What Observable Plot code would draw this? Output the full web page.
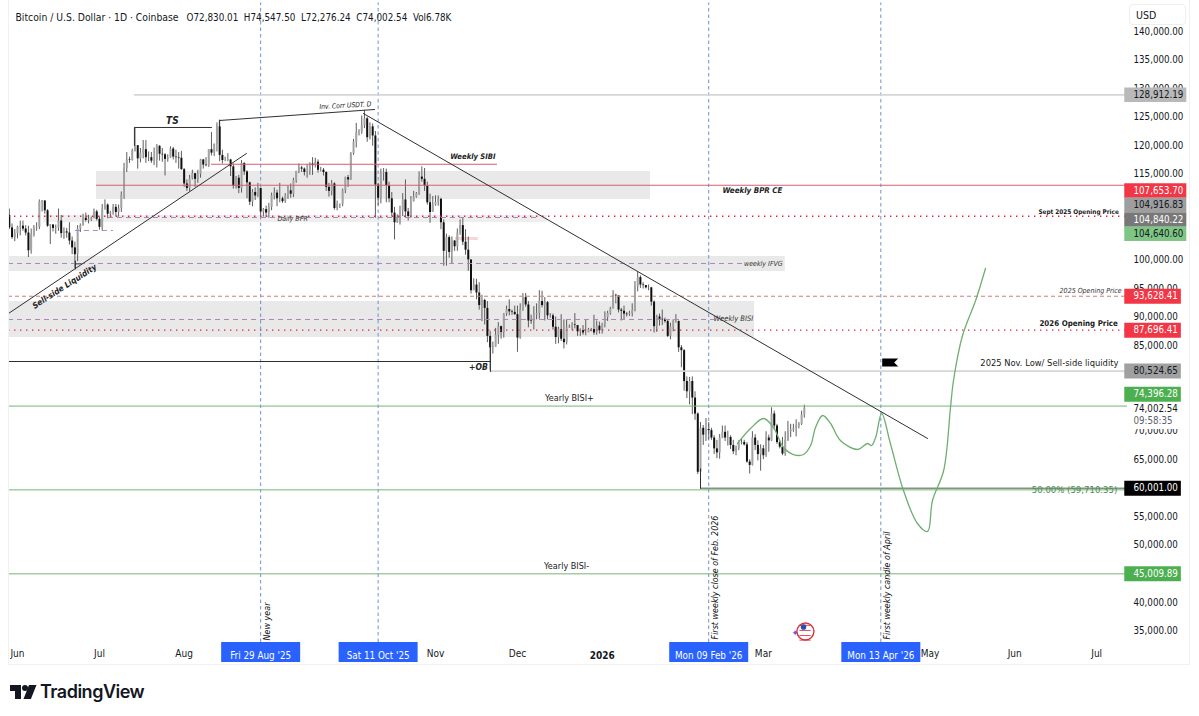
<!DOCTYPE html>
<html><head><meta charset="utf-8">
<script src="https://cdn.jsdelivr.net/npm/d3@7"></script>
<script src="https://cdn.jsdelivr.net/npm/@observablehq/plot@0.6"></script>
<style>
html,body{margin:0;padding:0;background:#fff;width:1199px;height:716px;overflow:hidden}
#wrap{position:relative;width:1199px;height:716px;font-family:"DejaVu Sans Condensed","DejaVu Sans",sans-serif}
#frame{position:absolute;left:8px;top:0;width:1182px;height:665px;border:1px solid #f1f1f1;border-top:none;box-sizing:border-box}
#usd{position:absolute;left:1129px;top:4px;width:57px;height:21px;background:#fff;border:1px solid #eeeeee;border-radius:4px;box-sizing:border-box;font-size:10.5px;line-height:20px;padding-left:6px;color:#131722;box-shadow:0 2px 0 #fff}
#logo{position:absolute;left:10px;top:681px;display:flex;align-items:center;gap:3px;color:#131722;font:600 18px "Inter",sans-serif;letter-spacing:-.5px}
svg{display:block}
</style></head><body>
<div id="wrap"><div id="frame"></div><div id="chart"></div><div id="usd">USD</div>
<div id="logo"><svg width="27" height="14" viewBox="0 0 27 14"><path d="M0 0h11v14H5V6H0z" fill="#131722"/><path d="M19 0h7.5l-5.6 14H13.5z" fill="#131722"/><circle cx="15" cy="3" r="3" fill="#131722"/></svg><span>TradingView</span></div></div>
<script>
// Daily candles, thousands of USD, from 29 May 2025 (day -3) on.
const firstDay = -3;
const firstOpen = 107.8;
const closes = [
105.6,103.9,104.6,
105.7,105.9,105.4,104.7,101.6,104.3,105.6,105.7,110.2,110.3,108.6,105.9,106.1,105.5,105.6,106.8,104.6,104.9,104.7,103.3,102.1,100.9,105.4,106.0,107.3,106.9,107.1,107.3,108.4,107.1,
105.7,108.9,109.6,108.0,108.2,109.2,108.3,109.0,111.3,116.0,117.5,117.4,119.1,120.0,117.7,118.7,119.3,117.9,117.9,117.3,117.4,119.9,118.5,118.4,117.6,117.9,119.4,118.0,117.9,117.8,115.8,
113.3,112.5,114.2,115.1,114.1,115.0,117.5,116.6,116.5,119.3,118.7,120.2,123.3,118.3,117.4,117.4,117.5,116.3,112.9,114.3,112.5,116.9,115.4,113.5,110.1,111.8,111.2,112.5,108.4,108.8,108.2,
109.2,111.2,111.7,110.7,110.7,110.2,111.2,112.1,111.5,113.9,115.5,116.1,115.9,115.3,115.4,116.8,116.5,117.1,115.7,115.7,115.3,112.7,112.0,113.3,109.0,109.7,109.7,112.1,114.4,114.0,
118.6,120.6,122.3,122.4,123.5,124.7,121.4,123.3,121.7,113.1,110.8,115.2,115.3,113.0,110.7,108.2,106.5,107.2,108.6,110.5,108.4,107.6,110.1,111.0,111.6,114.5,114.1,112.9,110.0,108.3,109.6,
110.1,110.6,106.5,101.5,103.9,101.3,103.3,102.3,104.7,106.0,103.1,101.7,100.0,94.6,95.6,94.2,92.0,92.9,91.5,86.6,84.6,84.7,86.8,88.3,87.3,90.5,91.3,90.9,90.8,90.4,
86.3,91.3,93.4,92.1,89.3,89.2,90.4,90.6,92.7,92.0,92.5,90.2,90.2,88.2,86.4,87.8,86.1,85.5,88.1,88.3,88.6,88.5,87.4,87.6,87.2,87.2,87.8,87.8,87.2,88.4,87.6,
88.7,89.9,90.6,91.4,93.8,93.7,91.2,91.0,90.5,90.4,90.6,91.1,95.3,96.9,95.6,95.5,95.1,95.1,92.6,88.3,90.0,89.6,89.5,89.2,86.6,88.3,89.2,89.2,84.6,84.1,78.7,
76.9,78.7,75.8,73.0,62.8,70.5,69.3,70.3,70.1,68.8,66.9,66.2,68.8,69.8,68.8,68.9,67.5,66.4,66.9,67.9,68.0,67.6,64.6,64.0,68.8,67.5,65.9,66.9,
65.7,68.8,68.3,73.0,70.9,68.0,67.2,66.0,68.4,69.9,70.2,70.5,70.9,71.2,72.83,74.00254];
const highs = [
108.9,106.3,105.3,
105.9,106.8,106.8,106.0,105.9,105.4,106.0,106.5,110.5,110.4,110.4,108.8,106.2,106.2,106.1,108.9,107.8,105.6,105.5,106.5,104.0,103.1,106.0,106.3,108.0,108.2,107.8,107.5,108.9,108.7,
107.5,109.7,110.5,109.8,108.5,109.7,109.7,109.6,111.9,116.9,118.8,118.0,119.4,123.2,120.0,119.5,120.9,120.9,118.9,118.8,119.6,120.2,120.0,119.5,118.6,118.4,119.8,119.7,119.2,118.8,119.0,
116.0,114.0,114.8,115.7,115.1,115.7,117.6,117.6,117.9,119.3,122.3,120.3,124.0,124.5,119.2,118.0,118.6,117.6,116.8,114.6,114.8,117.4,117.0,115.6,113.6,112.3,112.6,113.4,112.6,109.0,109.4,
109.9,111.7,112.6,112.2,113.4,111.0,111.6,112.9,113.3,114.3,115.5,116.8,116.4,116.1,116.7,117.0,117.9,117.8,117.5,116.2,116.0,115.4,113.4,113.9,113.5,110.3,109.8,112.4,114.5,114.8,
118.8,121.1,123.9,122.8,125.2,126.2,125.0,124.0,123.8,122.5,113.4,115.9,116.0,115.9,113.6,111.8,109.2,107.9,109.4,111.6,114.0,109.0,111.1,112.0,111.8,115.4,116.3,116.0,113.6,111.5,111.1,
111.2,111.2,110.8,107.0,104.5,104.2,104.0,103.4,105.4,107.0,107.4,105.3,104.0,99.8,96.7,96.6,96.0,93.8,93.1,92.7,87.5,85.6,88.0,89.0,88.4,90.6,91.9,93.0,91.2,91.9,
91.9,92.3,94.1,94.1,92.7,90.3,91.8,92.3,94.6,94.5,93.4,92.7,90.6,90.5,90.0,88.2,90.4,89.5,89.4,88.6,89.0,90.6,88.2,87.9,88.5,89.5,88.0,88.0,90.3,89.3,89.1,
88.9,90.9,91.0,91.7,94.6,94.0,93.6,91.5,91.9,90.8,91.0,92.3,96.2,97.8,97.2,96.0,95.5,95.6,95.2,92.8,90.3,90.5,91.2,89.8,89.4,88.9,89.5,90.4,89.3,85.0,84.3,
79.5,79.4,79.5,76.9,73.2,71.5,71.0,72.2,71.5,70.5,69.2,68.4,69.4,70.9,70.9,70.0,69.2,68.4,67.4,68.3,68.6,68.4,68.0,65.0,69.9,69.4,68.3,67.6,
67.5,69.9,69.3,74.1,73.5,71.2,68.4,68.9,69.9,71.7,71.2,71.2,72.0,71.5,73.5,74.5475];
const lows = [
105.3,103.6,103.2,
103.7,104.2,105.0,104.2,100.4,101.0,104.0,105.0,105.3,108.4,108.0,105.7,102.7,104.9,104.5,105.0,103.8,103.6,103.8,102.6,100.9,98.5,99.7,104.8,105.9,106.6,106.3,106.7,107.2,106.8,
105.2,105.1,108.7,107.2,107.3,107.8,107.5,107.5,108.3,110.6,115.3,116.9,117.3,118.9,115.9,117.0,117.7,116.9,117.2,116.9,116.5,116.1,117.3,117.1,114.7,117.1,117.8,117.5,116.9,115.9,115.7,
112.7,112.0,111.9,114.0,112.7,113.4,114.3,115.9,116.3,116.2,118.2,118.1,118.9,117.2,116.8,117.2,117.2,114.6,112.4,112.4,111.6,111.7,114.8,110.7,109.5,109.3,110.4,110.9,107.4,107.5,107.4,
107.3,108.6,110.5,109.3,110.0,109.9,109.9,110.6,110.8,110.9,113.4,115.1,115.3,114.7,114.3,114.8,114.8,116.1,115.2,115.4,114.7,112.0,111.0,111.2,108.7,108.6,109.0,109.3,111.6,112.7,
113.9,118.3,119.6,121.7,122.0,123.0,120.6,121.0,119.9,107.3,109.5,109.8,113.8,110.0,110.0,107.5,103.5,106.4,106.1,107.6,107.3,106.8,107.3,110.3,110.8,111.3,113.6,112.0,109.6,106.4,108.7,
109.4,109.4,105.3,98.9,98.9,100.3,99.3,101.5,101.5,104.3,102.5,100.8,98.0,94.0,94.6,93.0,91.2,89.2,88.6,85.5,80.6,83.5,84.7,85.2,86.1,86.3,90.1,90.2,90.3,90.3,
83.8,86.1,91.0,91.7,88.1,88.7,87.7,89.5,89.6,91.6,89.3,89.5,89.8,87.7,85.2,85.3,85.7,84.4,85.1,88.0,87.6,87.9,86.6,86.6,86.8,86.7,87.3,87.4,86.8,86.8,87.0,
87.0,88.1,89.2,90.3,91.4,92.3,90.7,89.3,89.4,90.0,90.1,90.0,90.9,94.4,95.0,94.9,94.9,94.6,91.9,87.2,87.3,88.4,88.5,88.9,86.4,86.0,87.4,88.9,83.8,81.1,77.0,
75.7,74.6,72.9,71.9,62.4,60.0,67.5,68.2,68.5,68.4,65.9,65.2,65.1,68.7,68.2,67.4,66.8,65.9,65.7,66.6,67.6,67.4,64.4,62.5,63.9,66.6,64.8,63.0,
65.0,65.4,66.3,68.2,70.2,67.7,66.9,65.7,65.6,68.2,68.9,69.8,69.0,70.4,71.0,72.276];

const yTickValues = [140,135,130,125,120,115,100,95,90,85,70,65,55,50,40,35];
const monthTicks = ["2025-06-01","2025-07-01","2025-08-01","2025-11-01","2025-12-01","2026-03-01","2026-05-01","2026-06-01","2026-07-01"];
const yearTick = [{date:"2026-01-01",text:"2026"}];
const cursorDates = [{d:89,text:"Fri 29 Aug '25"},{d:132,text:"Sat 11 Oct '25"},{d:253,text:"Mon 09 Feb '26"},{d:316,text:"Mon 13 Apr '26"}];

const forecastDays = [263.5,268.3,273.1,276.7,280.4,284,287.7,290.3,292.1,294.7,297.6,301.2,307.5,311.1,312.6,314.1,316.3,319.5,324.3,329.4,333.1,334.9,339,341.5,342.6,345.9,350.7,354.3];
const forecastPrices = [67.84,70.47,72.22,70.64,67.14,65.91,65.91,67.49,70.64,72.74,71.34,68.37,66.79,67.84,67.49,68.89,73.09,67.84,59.61,53.83,52.43,57.86,63.11,74.15,78.87,86.75,92.89,98.49];

const grayBands = [{a:28.9,b:231.7,lo:110.58,hi:115.48},{a:-3.294,b:281,lo:97.96,hi:100.59},{a:-3.294,b:269.8,lo:86.40,hi:92.71}];
const paleBands = [{a:9.5,b:194,lo:106.55,hi:107.77}];
const pinkLines = [{p:116.76,a:71,b:175.7},{p:113.08,a:28.9,b:408}];
const purpleDashes = [{p:107.42,a:33.3,b:191.4},{p:105.15,a:21.2,b:35.1},{p:99.37,a:-3.294,b:265.4},{p:89.56,a:-3.294,b:255.1}];
const redDotted = [107.65,87.70];
const redDashed = [93.63];
const paleMark = [{p:103.74,a:160.3,b:168.7}];
const greenLevels = [{p:74.396,a:-3.294,b:408},{p:59.72,a:-3.294,b:408},{p:45.01,a:-3.294,b:408}];
const grayLevels = [{p:128.912,a:42.8,b:408},{p:80.525,a:173.1,b:408}];
const lowLevel = [{p:60.0,a:250,b:408}];
const blackSegments = [
 [[-3.294,82.2],[173.1,82.2]],
 [[173.1,85.88],[173.1,80.45]],
 [[250,63.4],[250,60.0]],
 [[-3.294,90.61],[83.8,118.63]],
 [[42.8,120.03],[42.8,123.19],[71,123.19]],
 [[73.9,123.36],[73.9,124.41],[130.7,126.34]],
 [[126.6,125.64],[333.1,68.72]],
 [[21.2,99.8],[21.2,98.4]],
 [[21.2,99.3],[23,99.3]]
];
const italicBold = [
 {t:"TS",d:56.7,p:124.4,fs:10},{t:"Weekly SIBI",d:166.7,p:118.16,fs:7.6},{t:"Weekly BPR CE",d:269,p:112.15,fs:7.9},
 {t:"+OB",d:168.7,p:81.15,fs:8.5}];
const italicThin = [
 {t:"Daily BPR",d:100.7,p:107.25,fs:7},{t:"weekly IFVG",d:273,p:99.37,fs:7},{t:"Weekly BISI",d:262,p:89.73,fs:7.5},
 {t:"2025 Opening Price",d:392.8,p:94.64,fs:7}];
const plainLabels = [
 {t:"Yearly BISI+",d:202,p:75.72,fs:9},{t:"Yearly BISI-",d:201,p:46.3,fs:9},
 {t:"2025 Nov. Low/ Sell-side liquidity",d:377.7,p:81.85,fs:9.3}];
const boldLabels = [{t:"Sept 2025 Opening Price",d:388.4,p:108.47,fs:6.4},{t:"2026 Opening Price",d:388.4,p:88.91,fs:7.9}];
const rotatedNotes = [{t:"New year",d:91.5,p:36.67},{t:"First weekly close of Feb. 2026",d:255.5,p:44.37},{t:"First weekly candle of April",d:318.4,p:42.97}];

// Price tags: level = where the tag sits after TradingView stacks overlapping tags.
const tagsWide = [
 {t:"128,912.19",level:128.912,bg:"#b9b9b9",fg:"#131722"},
 {t:"107,653.70",level:112.15,bg:"#f23645",fg:"#fff"},
 {t:"104,916.83",level:109.65,bg:"#9e9e9e",fg:"#131722"},
 {t:"104,840.22",level:107.07,bg:"#787878",fg:"#fff"},
 {t:"104,640.60",level:104.57,bg:"#7fc685",fg:"#131722"}];
const tagsNarrow = [
 {t:"93,628.41",level:93.628,bg:"#f23645",fg:"#fff"},
 {t:"87,696.41",level:87.696,bg:"#f23645",fg:"#fff"},
 {t:"80,524.65",level:80.525,bg:"#a0a0a0",fg:"#131722"},
 {t:"74,396.28",level:76.45,bg:"#4caf50",fg:"#fff"},
 {t:"60,001.00",level:60.0,bg:"#000",fg:"#fff"},
 {t:"45,009.89",level:45.01,bg:"#4caf50",fg:"#fff"}];
const lastPrice = [{t:"74,002.54",level:73.97,c:"#131722"},{t:"09:58:35",level:71.87,c:"#5d606b"}];
const headerName = "Bitcoin / U.S. Dollar · 1D · Coinbase";
const headerValues = "O72,830.01\u00a0\u00a0H74,547.50\u00a0\u00a0L72,276.24\u00a0\u00a0C74,002.54\u00a0\u00a0Vol6.78K";

const DAY = 864e5, T0 = Date.UTC(2025,5,1);
const day = n => new Date(T0 + n*DAY);
const candles = closes.map((c,i)=>({d:day(firstDay+i),c,h:highs[i],l:lows[i],o:i?closes[i-1]:firstOpen}));
candles.forEach(k=>k.up=k.c>=k.o);
const forecast = forecastDays.map((d,i)=>({d:day(d),p:forecastPrices[i]}));
const AXIS_END = 406.29, WIDE_END = 428, NARROW_END = 426;
const segs = blackSegments.flatMap((s,i)=>s.map(([d,p])=>({i,d:day(d),p})));
const seg = (arr,opt)=>Plot.ruleY(arr,{y:"p",x1:r=>day(r.a),x2:r=>day(Math.min(r.b,AXIS_END)),...opt});
const note = (arr,opt)=>Plot.text(arr,{x:r=>day(r.d),y:"p",text:"t",fontSize:"fs",...opt});

const plot = Plot.plot({
  width:1199,height:716,marginLeft:8,marginRight:72,marginTop:2.45,marginBottom:74,
  style:{background:"transparent",fontFamily:'"DejaVu Sans Condensed","DejaVu Sans",sans-serif',color:"#131722",overflow:"visible"},
  x:{type:"utc",domain:[day(-3.294),day(AXIS_END)]},
  y:{domain:[32.985,145]},
  marks:[
    Plot.rect(grayBands,{x1:r=>day(r.a),x2:r=>day(r.b),y1:"lo",y2:"hi",fill:"#e9e9e9"}),
    Plot.rect(paleBands,{x1:r=>day(r.a),x2:r=>day(r.b),y1:"lo",y2:"hi",fill:"#eeeeee"}),
    seg(paleMark,{stroke:"#f7d6d6",strokeWidth:3}),
    Plot.axisY({anchor:"right",ticks:yTickValues,tickSize:0,tickPadding:6,label:null,fontSize:9.7,tickFormat:v=>d3.format(",.2f")(v*1000)}),
    Plot.axisX({ticks:monthTicks.map(s=>new Date(s)),tickSize:0,tickPadding:7,label:null,fontSize:10,tickFormat:d3.utcFormat("%b")}),
    Plot.text(yearTick,{x:r=>new Date(r.date),y:32.985,dy:13,text:"text",fontWeight:"bold",fontSize:10}),
    Plot.ruleX(cursorDates,{x:r=>day(r.d),y1:32.985,y2:145,stroke:"#6d93c7",strokeDasharray:"3.5,3",strokeWidth:1}),
    Plot.ruleX(candles,{x:"d",y1:"l",y2:"h",stroke:"#4b4b4b",strokeWidth:0.9}),
    Plot.ruleX(candles,{filter:k=>k.up,x:"d",y1:"o",y2:"c",stroke:"#a3a3a3",strokeWidth:2}),
    Plot.ruleX(candles,{filter:k=>!k.up,x:"d",y1:"o",y2:"c",stroke:"#101010",strokeWidth:2}),
    seg(grayLevels,{stroke:"#d6d6d6",strokeWidth:1.8}),
    seg(lowLevel,{stroke:"#84927f",strokeWidth:1.6}),
    seg(pinkLines,{stroke:"#d4606f",strokeWidth:1.1}),
    seg(purpleDashes,{stroke:"#a985c2",strokeWidth:1,strokeDasharray:"5,4"}),
    Plot.ruleY(redDotted,{x1:day(-3.294),x2:day(AXIS_END),stroke:"#e0263c",strokeWidth:1.4,strokeDasharray:"1.4,4.6"}),
    Plot.ruleY(redDashed,{x1:day(-3.294),x2:day(AXIS_END),stroke:"#d57b7b",strokeWidth:1,strokeDasharray:"4,3"}),
    seg(greenLevels,{stroke:"#76b37a",strokeWidth:1}),
    Plot.line(segs,{x:"d",y:"p",z:"i",stroke:"#2f2f2f",strokeWidth:1}),
    Plot.line(forecast,{x:"d",y:"p",stroke:"#6fae72",strokeWidth:1.3,curve:"catmull-rom"}),
    note(italicBold,{fontStyle:"italic",fontWeight:"bold",fill:"#222"}),
    note(italicThin,{fontStyle:"italic",fill:"#333"}),
    note(plainLabels,{fill:"#1a1a1a"}),
    note(boldLabels,{fontWeight:"bold",fill:"#1a1a1a"}),
    Plot.text([{t:"Sell-side Liquidity",d:17.2,p:95.34}],{x:r=>day(r.d),y:"p",text:"t",rotate:-33,fontSize:8.2,fontStyle:"italic",fontWeight:"bold",fill:"#222"}),
    Plot.text([{t:"Inv. Corr USDT. D",d:120,p:127.04}],{x:r=>day(r.d),y:"p",text:"t",rotate:-3,fontSize:6.8,fontStyle:"italic",fill:"#222"}),
    Plot.text(rotatedNotes,{x:r=>day(r.d),y:"p",text:"t",rotate:-90,fontSize:8,fontStyle:"italic",fill:"#111",fontFamily:"DejaVu Sans"}),
    Plot.text([{t:"50.00% (59,710.35)",d:386.9,p:59.78}],{x:r=>day(r.d),y:"p",text:"t",fontSize:9.5,fill:"#4d8a52"}),
    Plot.dot([{d:316.5,p:82.03}],{x:r=>day(r.d),y:"p",r:4,fill:"#000",symbol:{draw(c){c.moveTo(0,-4);c.lineTo(16,-4);c.lineTo(12,0);c.lineTo(16,4);c.lineTo(0,4);c.closePath();}}}),
    // US-flag badge
    Plot.dot([{d:288.4,p:34.9}],{x:r=>day(r.d),y:"p",r:8.5,fill:"#fff",stroke:"#d5343f",strokeWidth:1.4}),
    Plot.ruleY([36.0,35.1,34.2,33.4],{x1:day(286.4),x2:day(290.5),stroke:"#d5343f",strokeWidth:0.9}),
    Plot.dot([{d:287.7,p:35.7}],{x:r=>day(r.d),y:"p",r:2.8,fill:"#2a4fa8"}),
    Plot.text([{t:"✦",d:284.6,p:34.7}],{x:r=>day(r.d),y:"p",text:"t",fontSize:9,fill:"#7b4be0"}),
    // date cursors
    Plot.ruleX(cursorDates,{x:r=>day(r.d),y1:32.985,y2:29.5,stroke:"#2962ff",strokeWidth:79}),
    Plot.text(cursorDates,{x:r=>day(r.d),y:32.985,dy:13,text:"text",fill:"#fff",fontSize:9.8}),
    // price tags
    Plot.ruleY(lastPrice,{y:r=>r.level,x1:day(AXIS_END),x2:day(NARROW_END),stroke:"#fff",strokeWidth:17}),
    Plot.ruleY(tagsWide,{y:"level",x1:day(AXIS_END-1),x2:day(WIDE_END),stroke:"bg",strokeWidth:14.5}),
    Plot.ruleY(tagsNarrow,{y:"level",x1:day(AXIS_END-1),x2:day(NARROW_END),stroke:"bg",strokeWidth:15}),
    Plot.text(tagsWide,{x:day(AXIS_END),y:"level",dx:6,textAnchor:"start",text:"t",fill:"fg",fontSize:9.7}),
    Plot.text(tagsNarrow,{x:day(AXIS_END),y:"level",dx:6,textAnchor:"start",text:"t",fill:"fg",fontSize:9.7}),
    Plot.text(lastPrice,{x:day(AXIS_END),y:"level",dx:6,textAnchor:"start",text:"t",fill:"c",fontSize:9.7}),
    Plot.text([headerName],{frameAnchor:"top-left",dx:7,dy:11,text:d=>d,fontSize:10.3,fill:"#131722"}),
    Plot.text([headerValues],{frameAnchor:"top-left",dx:178,dy:11,text:d=>d,fontSize:9.8,fill:"#131722"})
  ]
});
document.getElementById("chart").append(plot);
</script>
</body></html>
